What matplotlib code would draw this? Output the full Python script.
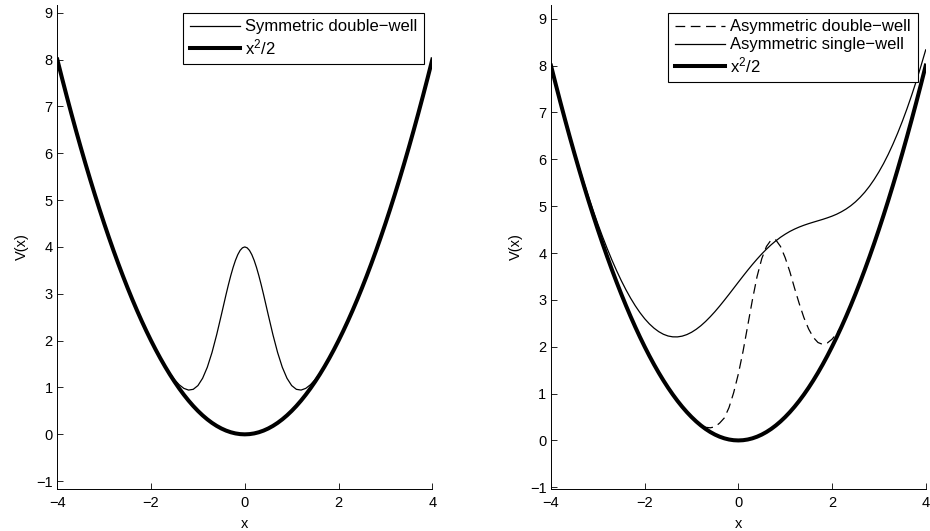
import matplotlib
matplotlib.use('Agg')
import matplotlib.pyplot as plt

plt.rcParams['font.family'] = ['Liberation Sans', 'DejaVu Sans']
plt.rcParams['mathtext.fontset'] = 'custom'
plt.rcParams['mathtext.rm'] = 'Liberation Sans'
plt.rcParams['lines.scale_dashes'] = False

# x grid at 0.1 steps, shared by parabola and single-well
x_grid = [round(-4 + 0.1 * i, 1) for i in range(81)]

# x^2/2 reference parabola
v_para = [8.0, 7.605, 7.22, 6.845, 6.48, 6.125, 5.78, 5.445, 5.12, 4.805,
          4.5, 4.205, 3.92, 3.645, 3.38, 3.125, 2.88, 2.645, 2.42, 2.205,
          2.0, 1.805, 1.62, 1.445, 1.28, 1.125, 0.98, 0.845, 0.72, 0.605,
          0.5, 0.405, 0.32, 0.245, 0.18, 0.125, 0.08, 0.045, 0.02, 0.005,
          0.0,
          0.005, 0.02, 0.045, 0.08, 0.125, 0.18, 0.245, 0.32, 0.405, 0.5,
          0.605, 0.72, 0.845, 0.98, 1.125, 1.28, 1.445, 1.62, 1.805, 2.0,
          2.205, 2.42, 2.645, 2.88, 3.125, 3.38, 3.645, 3.92, 4.205, 4.5,
          4.805, 5.12, 5.445, 5.78, 6.125, 6.48, 6.845, 7.22, 7.605, 8.0]

# symmetric double-well (left panel)
x_sym = [-4, -3.5, -3, -2.5, -2.25, -2.0, -1.9, -1.8, -1.7, -1.6, -1.5, -1.4, -1.3, -1.2,
         -1.1, -1.0, -0.9, -0.8, -0.7, -0.6, -0.5, -0.4, -0.35, -0.3, -0.25, -0.2, -0.15,
         -0.1, -0.05, 0.0, 0.05, 0.1, 0.15, 0.2, 0.25, 0.3, 0.35, 0.4, 0.5, 0.6, 0.7, 0.8,
         0.9, 1.0, 1.1, 1.2, 1.3, 1.4, 1.5, 1.6, 1.7, 1.8, 1.9, 2.0, 2.25, 2.5, 3, 3.5, 4]
v_sym = [8.0, 6.125, 4.5, 3.125, 2.531, 2.001, 1.808, 1.626, 1.457, 1.304, 1.169, 1.059, 0.981, 0.945,
         0.961, 1.041, 1.197, 1.432, 1.746, 2.127, 2.551, 2.985, 3.192, 3.386, 3.561, 3.712, 3.835,
         3.926, 3.981, 4.0, 3.981, 3.926, 3.835, 3.712, 3.561, 3.386, 3.192, 2.985, 2.551, 2.127, 1.746, 1.432,
         1.197, 1.041, 0.961, 0.945, 0.981, 1.059, 1.169, 1.304, 1.457, 1.626, 1.808, 2.001, 2.531, 3.125, 4.5,
         6.125, 8.0]

# asymmetric double-well (right panel, dashed)
x_adw = [-1.0, -0.9, -0.8, -0.7, -0.6, -0.5, -0.4, -0.3, -0.2, -0.1, 0.0, 0.1, 0.2, 0.3,
         0.4, 0.5, 0.6, 0.7, 0.8, 0.9, 1.0, 1.1, 1.2, 1.3, 1.4, 1.5, 1.6, 1.7,
         1.8, 1.9, 2.0, 2.1, 2.2, 2.3]
v_adw = [0.5, 0.405, 0.33, 0.28, 0.27, 0.29, 0.37, 0.48, 0.70, 1.02, 1.42, 1.90, 2.45, 3.00,
         3.50, 3.88, 4.14, 4.28, 4.28, 4.14, 3.90, 3.60, 3.25, 2.92, 2.62, 2.38, 2.20, 2.09,
         2.05, 2.08, 2.16, 2.28, 2.44, 2.65]

# asymmetric single-well (right panel, thin), same x grid
v_asw = [8.015, 7.624, 7.244, 6.875, 6.518, 6.171, 5.837, 5.514, 5.204, 4.907,
         4.622, 4.352, 4.095, 3.852, 3.625, 3.412, 3.216, 3.036, 2.873, 2.727,
         2.598, 2.488, 2.396, 2.322, 2.266, 2.229, 2.211, 2.210, 2.226, 2.259,
         2.308, 2.372, 2.449, 2.539, 2.640, 2.749, 2.867, 2.991, 3.118, 3.248,
         3.378,
         3.507, 3.633, 3.755, 3.871, 3.981, 4.082, 4.176, 4.260, 4.336, 4.402,
         4.461, 4.511, 4.555, 4.593, 4.627, 4.658, 4.688, 4.718, 4.751, 4.787,
         4.829, 4.880, 4.939, 5.009, 5.092, 5.189, 5.299, 5.426, 5.570, 5.731,
         5.909, 6.106, 6.322, 6.556, 6.808, 7.078, 7.367, 7.673, 7.996, 8.336]

W, H = 930, 531
fig = plt.figure(figsize=(W / 100, H / 100), dpi=100)


def setup(ax, ylim):
    ax.set_xlim(-4, 4)
    ax.set_ylim(*ylim)
    ax.set_xticks([-4, -2, 0, 2, 4])
    ax.set_yticks(range(-1, 10))
    ax.set_xticklabels(['\u22124', '\u22122', '0', '2', '4'])
    ax.set_yticklabels(['\u22121'] + [str(i) for i in range(0, 10)])
    for s in ['top', 'right']:
        ax.spines[s].set_visible(False)
    for s in ['left', 'bottom']:
        ax.spines[s].set_linewidth(0.7)
    ax.tick_params(direction='in', length=4.3, width=0.6, labelsize=10.5, pad=3.3)
    ax.tick_params(axis='x', pad=5)
    ax.set_xlabel('x', fontsize=10.5, labelpad=5)
    ax.set_ylabel('V(x)', fontsize=10.5, labelpad=5)


ax1 = fig.add_axes([57.3 / W, (H - 488.7) / H, 375 / W, 484 / H])
ax1.plot(x_sym, v_sym, color='black', lw=0.9, label='Symmetric double\u2212well')
ax1.plot(x_grid, v_para, color='black', lw=2.9, label=r'$\mathregular{x^2/2}$')
setup(ax1, (-1.16, 9.17))

ax2 = fig.add_axes([551 / W, (H - 488.7) / H, 374.7 / W, 484 / H])
ax2.plot(x_adw, v_adw, color='black', lw=0.9, dashes=(7, 4), label='Asymmetric double\u2212well')
ax2.plot(x_grid, v_asw, color='black', lw=0.9, label='Asymmetric single\u2212well')
ax2.plot(x_grid, v_para, color='black', lw=2.9, label=r'$\mathregular{x^2/2}$')
setup(ax2, (-1.03, 9.3))

for ax, right in [(ax1, 424.3), (ax2, 917.7)]:
    leg = ax.legend(loc='upper right', bbox_to_anchor=(right / W, 1 - 12.7 / H),
                    bbox_transform=fig.transFigure, borderaxespad=0, fancybox=False,
                    edgecolor='black', framealpha=1, fontsize=12, handlelength=3.0,
                    handletextpad=0.35, borderpad=0.4, labelspacing=0.18)
    leg.get_frame().set_linewidth(0.8)

fig.savefig('out.png', dpi=100)
